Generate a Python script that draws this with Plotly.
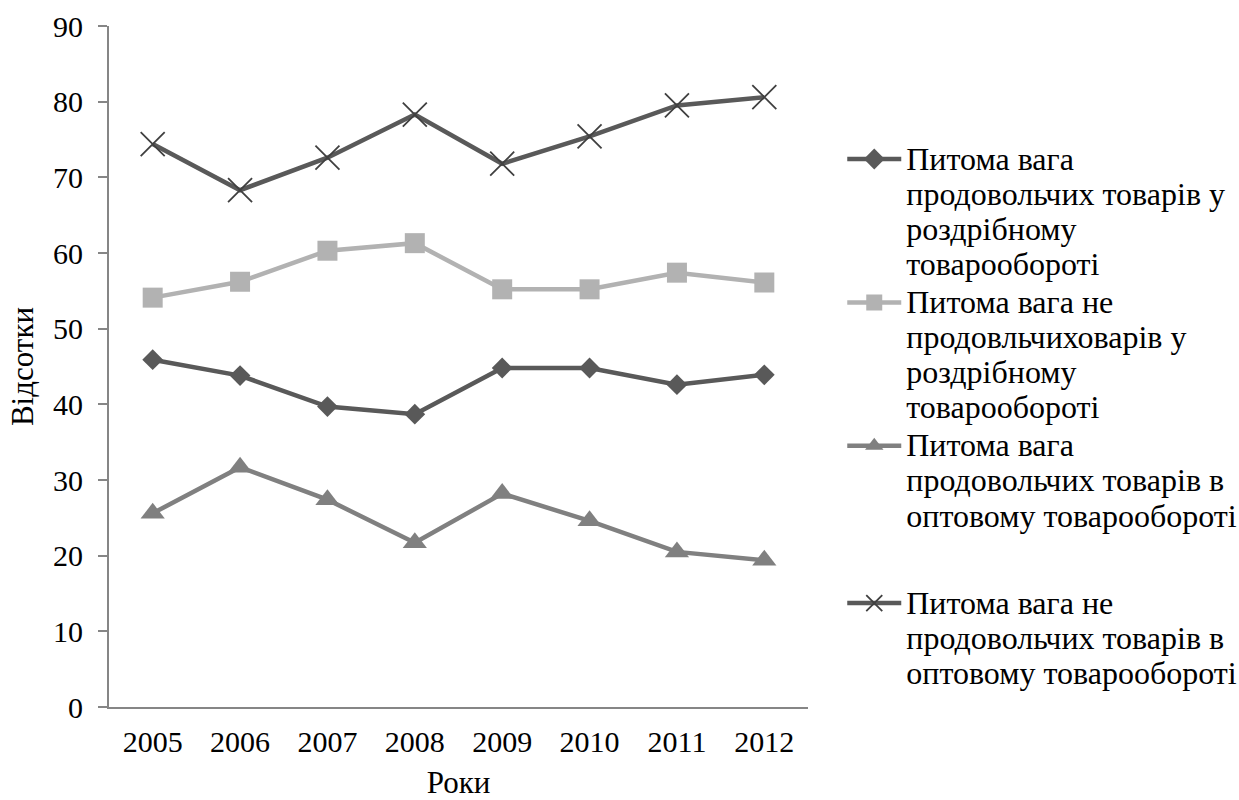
import plotly.graph_objects as go

years = ["2005", "2006", "2007", "2008", "2009", "2010", "2011", "2012"]

food_retail = [45.9, 43.8, 39.7, 38.7, 44.8, 44.8, 42.6, 43.9]
nonfood_retail = [54.1, 56.2, 60.3, 61.3, 55.2, 55.2, 57.4, 56.1]
food_wholesale = [25.6, 31.7, 27.4, 21.7, 28.2, 24.6, 20.5, 19.4]
nonfood_wholesale = [74.4, 68.3, 72.6, 78.3, 71.8, 75.4, 79.5, 80.6]

legend_lines = [
    ["Питома вага", "продовольчих товарів у", "роздрібному", "товарообороті"],
    ["Питома вага не", "продовльчиховарів у", "роздрібному", "товарообороті"],
    ["Питома вага", "продовольчих товарів в", "оптовому товарообороті"],
    ["Питома вага не", "продовольчих товарів в", "оптовому товарообороті"],
]

FONT = "Liberation Serif, Times New Roman, serif"
LEGEND_TEXT_PX = 32  # glyph size; line pitch follows the legend font size


def legend_name(lines):
    # larger glyphs inside spans keep the tighter line pitch of the base font
    return "<br>".join(
        f'<span style="font-size:{LEGEND_TEXT_PX}px">{ln}</span>' for ln in lines
    )


names = [legend_name(lines) for lines in legend_lines]

fig = go.Figure()
fig.add_trace(go.Scatter(
    x=years, y=food_retail, name=names[0], mode="lines+markers",
    line=dict(color="#595959", width=4.5),
    marker=dict(symbol="diamond", size=16, color="#595959"),
    legend="legend",
))
fig.add_trace(go.Scatter(
    x=years, y=nonfood_retail, name=names[1], mode="lines+markers",
    line=dict(color="#b2b2b2", width=4.5),
    marker=dict(symbol="square", size=20, color="#b2b2b2"),
    legend="legend",
))
fig.add_trace(go.Scatter(
    x=years, y=food_wholesale, name=names[2], mode="lines+markers",
    line=dict(color="#808080", width=4.5),
    marker=dict(symbol="triangle-up", size=21, color="#808080"),
    legend="legend",
))
fig.add_trace(go.Scatter(
    x=years, y=nonfood_wholesale, name=names[3], mode="lines+markers",
    line=dict(color="#595959", width=4.5),
    marker=dict(symbol="x-thin", size=24, color="#404040",
                line=dict(color="#404040", width=1.8)),
    legend="legend2",
))

axis_color = "#868686"
legend_style = dict(
    x=1.049, xanchor="left", yanchor="top",
    font=dict(family=FONT, size=27, color="black"), valign="top",
    itemwidth=54, tracegroupgap=0, bgcolor="rgba(0,0,0,0)",
)

fig.update_layout(
    width=1239, height=800,
    margin=dict(l=109, r=431, t=26, b=93, autoexpand=False),
    paper_bgcolor="white", plot_bgcolor="white",
    font=dict(family=FONT, size=30, color="black"),
    xaxis=dict(
        type="category", range=[-0.5, 7.5],
        showline=True, linecolor=axis_color, linewidth=2,
        ticks="", showgrid=False, zeroline=False,
        tickfont=dict(size=30), ticklabelstandoff=7,
        title=dict(text="Роки", font=dict(size=31), standoff=34),
    ),
    yaxis=dict(
        range=[0, 90], tickvals=list(range(0, 91, 10)),
        showline=True, linecolor=axis_color, linewidth=2,
        ticks="outside", ticklen=9, tickcolor=axis_color, tickwidth=2,
        showgrid=False, zeroline=False,
        tickfont=dict(size=30), ticklabelstandoff=9,
        title=dict(text="Відсотки", font=dict(size=31), standoff=10),
    ),
    legend=dict(y=0.84, **legend_style),
    legend2=dict(y=0.188, **legend_style),
)

fig.write_html("out.html")
